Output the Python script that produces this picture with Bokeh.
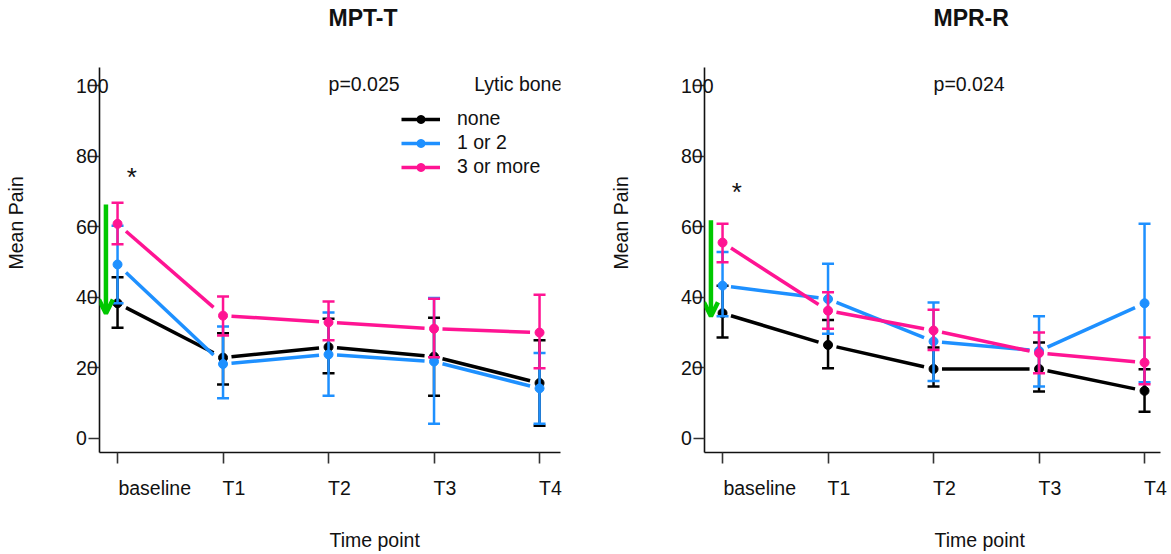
import numpy as np
from bokeh.plotting import figure
from bokeh.models import (FixedTicker, Title, Arrow, OpenHead,
                          Legend, LegendItem, Range1d)
from bokeh.layouts import row
from bokeh.core.properties import value
from bokeh.embed import file_html
from bokeh.resources import INLINE

# ---------------- data ----------------
time_labels = ["baseline", "T1", "T2", "T3", "T4"]
series_names = ["none", "1 or 2", "3 or more"]
y_ticks = [0, 20, 40, 60, 80, 100]

# MPT-T
mpt_none_mean = [38.3, 22.9, 25.9, 23.2, 15.7]
mpt_none_upper = [45.7, 29.8, 33.9, 34.2, 27.8]
mpt_none_lower = [31.4, 15.3, 18.5, 12.1, 3.6]
mpt_12_mean = [49.3, 21.1, 23.8, 21.8, 14.2]
mpt_12_upper = [60.3, 31.7, 35.7, 39.8, 24.2]
mpt_12_lower = [38.3, 11.4, 12.1, 4.2, 4.2]
mpt_3m_mean = [60.8, 34.8, 32.9, 31.1, 30.0]
mpt_3m_upper = [66.8, 40.2, 38.8, 39.6, 40.7]
mpt_3m_lower = [55.0, 29.2, 27.8, 23.0, 19.9]
mpt_p = "p=0.025"
mpt_arrow = (66.3, 35.4)
mpt_star = 74.0

# MPR-R
mpr_none_mean = [35.5, 26.5, 19.7, 19.7, 13.5]
mpr_none_upper = [43.3, 33.6, 25.8, 27.2, 19.6]
mpr_none_lower = [28.6, 19.9, 14.7, 13.3, 7.6]
mpr_12_mean = [43.3, 39.5, 27.5, 24.8, 38.3]
mpr_12_upper = [52.8, 49.5, 38.5, 34.6, 60.8]
mpr_12_lower = [34.6, 29.7, 16.3, 14.7, 15.9]
mpr_3m_mean = [55.5, 36.2, 30.6, 24.2, 21.5]
mpr_3m_upper = [60.8, 41.4, 36.5, 30.0, 28.6]
mpr_3m_lower = [49.9, 31.1, 25.1, 18.5, 15.4]
mpr_p = "p=0.024"
mpr_arrow = (61.8, 34.6)
mpr_star = 69.8

colors = ["#000000", "#1E90FF", "#FF1493"]
GREEN = "#00C800"
FONT = "Liberation Sans"
FS = "19.5px"
FIG_SP = "\u2007"   # figure space (digit width) used only for label alignment
NB_SP = "\u00a0"

# left-aligned x labels: pad on the left (labels are centred on the tick)
x_pads = {"baseline": FIG_SP * 6 + NB_SP + "\u2009", "T1": FIG_SP * 2, "T2": FIG_SP * 2,
          "T3": FIG_SP * 2, "T4": FIG_SP * 2}


def spacer(p, side, size):
    # blank panel that only reserves space between the axis and its title
    p.add_layout(Title(text=" ", text_font_size="1px", standoff=size,
                       text_color="white"), side)


def make_panel(title, means, uppers, lowers, ptxt, arrow_y, star_y,
               width, frame_w, show_legend):
    x_end = -0.171 + frame_w / 105.5
    p = figure(width=width, height=554, output_backend="svg", toolbar_location=None,
               x_range=Range1d(-0.171, x_end), y_range=Range1d(-3.97, 105.1),
               min_border_left=99, min_border_right=width - 99 - frame_w,
               min_border_top=67, min_border_bottom=102)
    p.title.visible = False
    p.outline_line_color = None
    p.xgrid.visible = False
    p.ygrid.visible = False
    p.background_fill_color = "white"
    p.border_fill_color = "white"

    xs = np.arange(len(time_labels), dtype=float)

    # axes
    p.xaxis.ticker = FixedTicker(ticks=list(xs))
    p.xaxis.major_label_overrides = {i: x_pads[t] + t for i, t in enumerate(time_labels)}
    p.xaxis.major_label_standoff = 13
    p.yaxis.ticker = FixedTicker(ticks=y_ticks)
    p.yaxis.major_label_overrides = {v: str(v) + FIG_SP * (3 - len(str(v))) for v in y_ticks}
    p.yaxis.major_label_standoff = -20
    for ax in (p.xaxis, p.yaxis):
        ax.major_tick_out = 11
        ax.major_tick_in = 0
        ax.minor_tick_line_color = None
        ax.axis_line_width = 1.6
        ax.axis_line_color = "#111111"
        ax.major_tick_line_width = 1.6
        ax.major_tick_line_color = "#333333"
        ax.major_label_text_font = FONT
        ax.major_label_text_font_size = FS
        ax.major_label_text_color = "#111111"

    # titles (spacers keep the frame where it is)
    spacer(p, "above", 34)
    p.add_layout(Title(text=title, align="left", offset=229, standoff=0,
                       vertical_align="bottom",
                       text_font=FONT, text_font_size="23px", text_font_style="bold",
                       text_color="#111111"), "above")
    spacer(p, "below", 24)
    p.add_layout(Title(text="Time point", align="left", offset=230, standoff=0,
                       vertical_align="top",
                       text_font=FONT, text_font_size=FS, text_font_style="normal",
                       text_color="#111111"), "below")
    spacer(p, "left", 43)
    p.add_layout(Title(text="Mean Pain", align="left", offset=183, standoff=0,
                       vertical_align="bottom",
                       text_font=FONT, text_font_size=FS, text_font_style="normal",
                       text_color="#111111"), "left")

    g0, g1 = 0.08, 0.09
    items = []
    for name, col, m, up, lo in zip(series_names, colors, means, uppers, lowers):
        m = np.array(m, dtype=float)
        x0 = xs[:-1] + g0
        x1 = xs[1:] - g1
        slope = np.diff(m)
        y0 = m[:-1] + slope * g0
        y1 = m[1:] - slope * g1
        seg = p.segment(x0=x0, y0=y0, x1=x1, y1=y1, line_color=col, line_width=3.5)
        p.segment(x0=xs, y0=lo, x1=xs, y1=up, line_color=col, line_width=2.5)
        p.scatter(x=np.concatenate([xs, xs]), y=np.concatenate([up, lo]),
                  marker="dash", size=12, line_color=col, line_width=2.5)
        dots = p.scatter(x=xs, y=m, size=9, fill_color=col, line_color=col)
        items.append(LegendItem(label=name, renderers=[seg, dots]))

    p.add_layout(Arrow(x_start=-0.11, y_start=arrow_y[0], x_end=-0.11, y_end=arrow_y[1],
                       line_color=GREEN, line_width=4.5,
                       end=OpenHead(size=14, line_color=GREEN, line_width=4.5)))
    p.text(x=[0.135], y=[star_y], text=["*"], text_font=value(FONT),
           text_font_size="26px", text_align="center", text_baseline="middle",
           text_color="#111111")
    p.text(x=[2.0], y=[100.3], text=[ptxt], text_font=value(FONT),
           text_font_size=FS, text_align="left", text_baseline="middle",
           text_color="#111111")

    if show_legend:
        p.text(x=[3.38], y=[100.3], text=["Lytic bone"], text_font=value(FONT),
               text_font_size=FS, text_align="left", text_baseline="middle",
               text_color="#111111")
        leg = Legend(items=items, location=(302, 274), padding=0, margin=0,
                     spacing=1, glyph_width=39, glyph_height=20, label_height=20,
                     label_standoff=17, label_text_font=FONT,
                     label_text_font_size=FS, label_text_color="#111111",
                     border_line_color=None, background_fill_alpha=0)
        p.add_layout(leg, "center")
    return p


p1 = make_panel("MPT-T",
                [mpt_none_mean, mpt_12_mean, mpt_3m_mean],
                [mpt_none_upper, mpt_12_upper, mpt_3m_upper],
                [mpt_none_lower, mpt_12_lower, mpt_3m_lower],
                mpt_p, mpt_arrow, mpt_star, 605, 461, True)
p2 = make_panel("MPR-R",
                [mpr_none_mean, mpr_12_mean, mpr_3m_mean],
                [mpr_none_upper, mpr_12_upper, mpr_3m_upper],
                [mpr_none_lower, mpr_12_lower, mpr_3m_lower],
                mpr_p, mpr_arrow, mpr_star, 566, 456, False)

layout = row(p1, p2)
open("out.html", "w").write(file_html(layout, INLINE))
